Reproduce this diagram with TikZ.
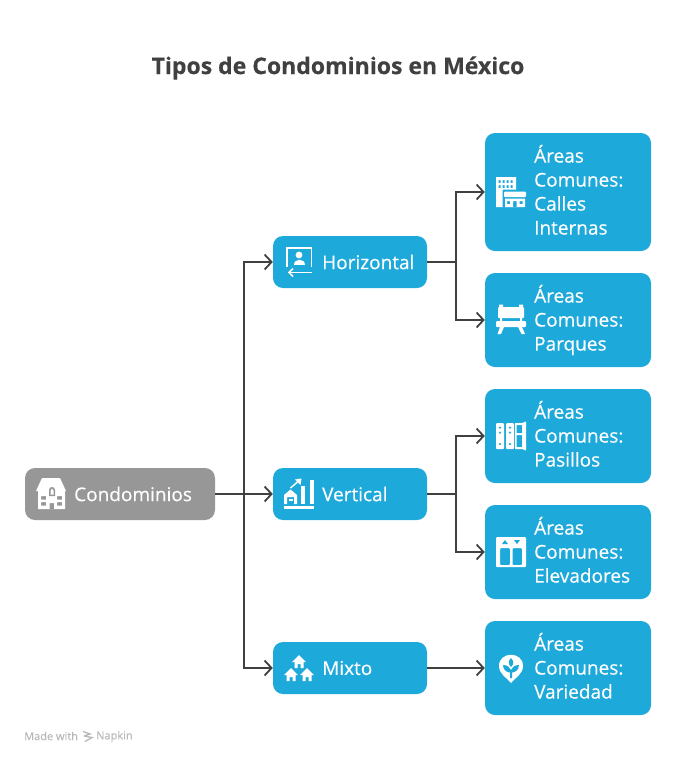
\documentclass[tikz,border=0pt]{standalone}
\usepackage{fontspec}
\setmainfont[RawFeature={embolden=0.35}]{Open Sans}
\usetikzlibrary{arrows.meta,positioning}
\definecolor{napblue}{HTML}{1EA9DB}
\definecolor{napgray}{HTML}{979797}
\definecolor{napline}{HTML}{404040}
\tikzset{
  root/.style={fill=napgray, rounded corners=10pt, minimum width=190pt, minimum height=52pt, inner sep=0pt},
  mid/.style={fill=napblue, rounded corners=10pt, minimum width=154pt, minimum height=52pt, inner sep=0pt},
  leaf/.style={fill=napblue, rounded corners=10pt, minimum width=166pt, inner sep=0pt},
  boxtext/.style={text=white, font=\fontsize{19}{24}\selectfont, anchor=west, inner sep=0pt, align=left},
  leaftext/.style={boxtext, execute at end node={\vphantom{p}}},
  link/.style={draw=napline, line width=1.8pt, -{Straight Barb[length=7pt,width=15pt,line width=1.8pt]}},
  trunk/.style={draw=napline, line width=1.8pt},
  icon/.style={fill=white, draw=none}
}
\begin{document}
\begin{tikzpicture}[x=1pt,y=-1pt]
  \useasboundingbox (0,0) rectangle (676,764);

  \node [font=\fontsize{23}{28}\selectfont\bfseries, text=napline, inner sep=0pt] (title) at (338,68) {Tipos de Condominios en México};

  \node [root] (cond) at (120,494) {};
  \node [boxtext] (condt) at (74,494) {Condominios};

  \node [mid] (hor) at (350,262) {};
  \node [mid] (ver) at (350,494) {};
  \node [mid] (mix) at (350,668) {};
  \node [boxtext] (hort) at (322,262) {Horizontal};
  \node [boxtext] (vert) at (322,494) {Vertical};
  \node [boxtext] (mixt) at (322,668) {Mixto};

  \node [leaf, minimum height=118pt] (calles) at (568,192) {};
  \node [leaf, minimum height=94pt] (parques) at (568,320) {};
  \node [leaf, minimum height=94pt] (pasillos) at (568,436) {};
  \node [leaf, minimum height=94pt] (elev) at (568,552) {};
  \node [leaf, minimum height=94pt] (varied) at (568,668) {};
  \node [leaftext] (callest) at (534,192) {Áreas\\Comunes:\\Calles\\Internas};
  \node [leaftext] (parquest) at (534,320) {Áreas\\Comunes:\\Parques};
  \node [leaftext] (pasillost) at (534,436) {Áreas\\Comunes:\\Pasillos};
  \node [leaftext] (elevt) at (534,552) {Áreas\\Comunes:\\Elevadores};
  \node [leaftext] (variedt) at (534,668) {Áreas\\Comunes:\\Variedad};

  % connectors
  \coordinate (jroot) at (244,494);
  \coordinate (jhor) at (456,262);
  \coordinate (jver) at (456,494);
  \draw [trunk] (cond.east) -- (jroot);
  \draw [link] (jroot) -- (ver.west);
  \draw [link] (jroot) |- (hor.west);
  \draw [link] (jroot) |- (mix.west);
  \draw [trunk] (hor.east) -- (jhor);
  \draw [link] (jhor) |- (calles.west);
  \draw [link] (jhor) |- (parques.west);
  \draw [trunk] (ver.east) -- (jver);
  \draw [link] (jver) |- (pasillos.west);
  \draw [link] (jver) |- (elev.west);
  \draw [link] (mix.east) -- (varied.west);

  % icon: condominios
  \fill [icon, rounded corners=0.5pt] (42,478) -- (60,478) -- (66,491) -- (36,491) -- cycle;
  \fill [icon, even odd rule] (38,490) rectangle (65,509)
    (41,496) rectangle (46,499.5) (41,502) rectangle (46,505.5)
    (57,496) rectangle (62,499.5) (57,502) rectangle (62,505.5)
    (49.5,503) rectangle (54,509);
  \fill [napgray] (49,496) -- (49,490) .. controls (49,486) and (55,486) .. (55,490) -- (55,496) -- cycle;
  \fill [icon] (50.5,494.5) -- (50.5,490.5) .. controls (50.5,488) and (53.5,488) .. (53.5,490.5) -- (53.5,494.5) -- cycle;

  % icon: horizontal
  \draw [white, line width=1.6pt] (287,267) -- (287,248) -- (311.5,248) -- (311.5,267);
  \fill [icon] (299,255) circle (3.4);
  \fill [icon] (293.5,265) .. controls (293.5,258) and (304.5,258) .. (304.5,265) -- cycle;
  \draw [white, line width=1.6pt] (311.5,272.5) -- (290,272.5);
  \draw [white, line width=1.6pt] (293,268.5) -- (289,272.5) -- (293,276.5);

  % icon: vertical
  \fill [icon] (284,504) -- (284,495) -- (290.5,489.5) -- (297,495) -- (297,504) -- (294,504) -- (294,497) -- (287,497) -- (287,504) -- cycle;
  \fill [icon] (288.5,499) rectangle (292.5,501);
  \fill [icon] (300.5,486) rectangle (304.5,504);
  \fill [icon] (309.5,480) rectangle (313.5,504);
  \fill [icon] (284,506) rectangle (314,509);
  \draw [white, line width=1.5pt] (290.5,488) -- (298,481.5);
  \fill [icon] (301.5,478.5) -- (295,479.5) -- (300.5,485) -- cycle;

  % icon: mixto
  \foreach \hx/\hy in {299/661, 291/674, 307/674}{
    \fill [icon] (\hx-7,\hy+1) -- (\hx,\hy-6) -- (\hx+7,\hy+1) -- (\hx+4.5,\hy+1) -- (\hx+4.5,\hy+7) -- (\hx+1.5,\hy+7) -- (\hx+1.5,\hy+3) -- (\hx-1.5,\hy+3) -- (\hx-1.5,\hy+7) -- (\hx-4.5,\hy+7) -- (\hx-4.5,\hy+1) -- cycle;
  }

  % icon: calles
  \fill [icon, even odd rule] (496,177) rectangle (516,207)
    (498.5,180) rectangle (500.5,183) (502.5,180) rectangle (504.5,183) (506.5,180) rectangle (508.5,183) (510.5,180) rectangle (512.5,183)
    (498.5,185) rectangle (500.5,188) (502.5,185) rectangle (504.5,188) (506.5,185) rectangle (508.5,188) (510.5,185) rectangle (512.5,188);
  \fill [napblue, rounded corners=1pt] (502.5,189.5) rectangle (527.5,207.5);
  \fill [icon, rounded corners=1pt] (504,191.5) rectangle (526,197);
  \fill [icon, even odd rule] (505,198.5) rectangle (525,207) (507,201) rectangle (510,204) (519.5,201) rectangle (522.5,204) (513,201) rectangle (516.5,207);

  % icon: parques
  \fill [icon, rounded corners=1pt] (498,307) rectangle (524,318);
  \fill [icon] (499,304.5) rectangle (503,308) (519,304.5) rectangle (523,308);
  \fill [icon, rounded corners=1pt] (496,321) rectangle (526,327);
  \fill [icon] (500,318) rectangle (502,321) (520,318) rectangle (522,321);
  \fill [icon] (500,327) -- (504,327) -- (501,334) -- (497.5,334) -- cycle;
  \fill [icon] (518,327) -- (522,327) -- (525,334) -- (521.5,334) -- cycle;

  % icon: pasillos
  \fill [icon, rounded corners=1pt, even odd rule] (496,423) rectangle (504,449)
    (498.5,426.5) rectangle (501.5,428.5) (498.5,431.5) rectangle (501.5,433.5) (498.5,443) rectangle (501.5,445);
  \fill [icon, rounded corners=1pt, even odd rule] (506,423) rectangle (514,449)
    (508.5,426.5) rectangle (511.5,428.5) (508.5,431.5) rectangle (511.5,433.5) (508.5,443) rectangle (511.5,445);
  \fill [icon, even odd rule] (515,423) -- (522,423) -- (526,421.5) -- (526,450.5) -- (522,449) -- (515,449) -- cycle
    (516.5,425) rectangle (522,433) (516.5,435) rectangle (522,447);

  % icon: elevadores
  \fill [icon, rounded corners=1pt, even odd rule] (496,537) rectangle (526,567)
    (500,548) rectangle (510,565) (512.5,548) rectangle (522,565);
  \fill [napblue] (502,544) -- (505,540) -- (508,544) -- cycle;
  \fill [napblue] (514,540) -- (520,540) -- (517,544) -- cycle;

  % icon: variedad
  \fill [icon] (511,683) .. controls (507,678) and (499,674) .. (499,666) .. controls (499,651) and (523,651) .. (523,666) .. controls (523,674) and (515,678) .. (511,683) -- cycle;
  \fill [napblue] (511,658) .. controls (508,661) and (508,664) .. (511,667) .. controls (514,664) and (514,661) .. (511,658) -- cycle;
  \fill [napblue] (503,665) .. controls (503,670) and (507,672.5) .. (510,672.5) -- (510,678) -- (512,678) -- (512,672.5) .. controls (515,672.5) and (519,670) .. (519,665) .. controls (515,665) and (512,667) .. (511,670) .. controls (510,667) and (507,665) .. (503,665) -- cycle;

  % footer
  \node [anchor=west, inner sep=0pt, font=\fontsize{11}{13}\selectfont, text=black!28] (made) at (24,736) {Made with};
  \node [anchor=west, inner sep=0pt, font=\fontsize{11}{13}\selectfont, text=black!28] (napkin) at (96,736.5) {Napkin};
  \draw [black!28, line width=1.3pt] (83,731.5) -- (90,734) -- (84,736) (84,736) -- (92,737.5) -- (85,741.5);
\end{tikzpicture}
\end{document}
